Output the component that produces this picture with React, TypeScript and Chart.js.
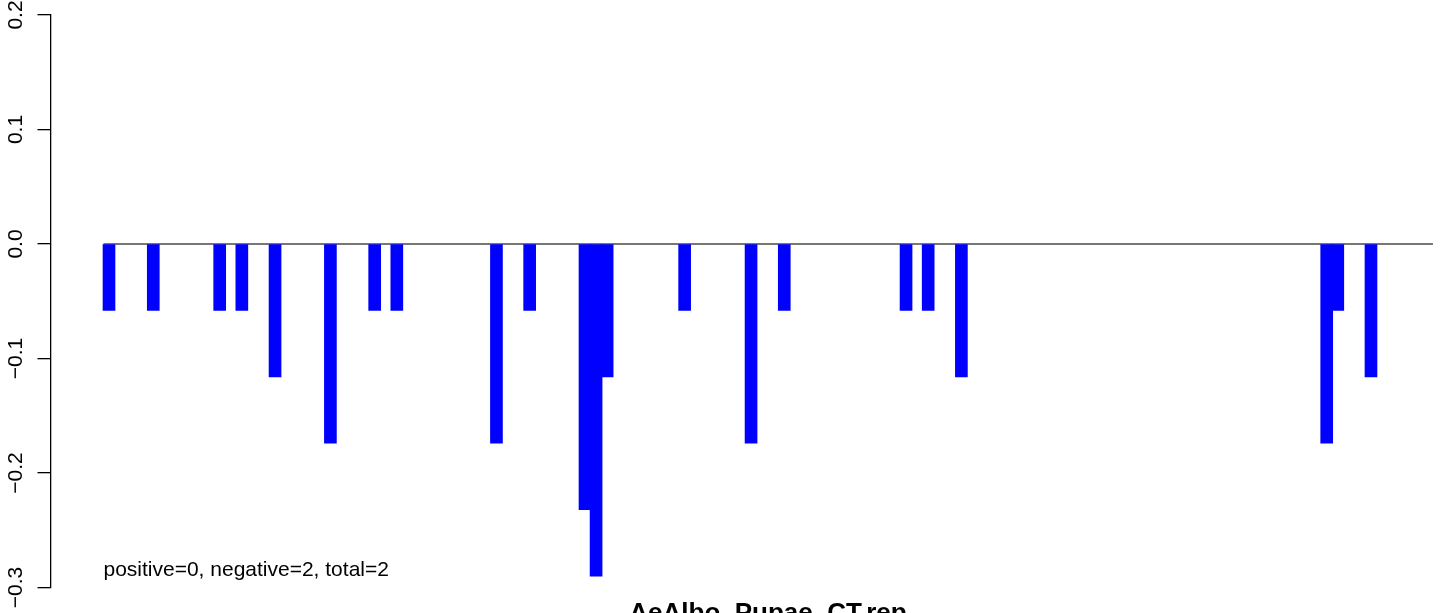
import React, { useEffect, useRef } from "react";
import { Chart, registerables } from "chart.js";

Chart.register(...registerables);

// Bar slot positions (index along the x axis) and their values
const slots = [0, 4, 10, 12, 15, 20, 24, 26, 35, 38, 43, 44, 45, 52, 58, 61, 72, 74, 77, 110, 111, 114];
const values = [
  -0.058, -0.058, -0.058, -0.058, -0.116, -0.174, -0.058, -0.058, -0.174, -0.058, -0.232,
  -0.29, -0.116, -0.058, -0.174, -0.058, -0.058, -0.058, -0.116, -0.174, -0.058, -0.116,
];
const yTickValues = [-0.3, -0.2, -0.1, 0, 0.1, 0.2];
const zeroLineX = [-0.5, 119.6];
const titleText = "AeAlbo_Pupae_CT.rep";
const noteText = "positive=0, negative=2, total=2";

const FONT = "'Liberation Sans', Arial, Helvetica, sans-serif";

export default function App() {
  const ref = useRef<HTMLCanvasElement | null>(null);

  useEffect(() => {
    if (!ref.current) return;

    const overlay = {
      id: "overlay",
      afterDraw(chart: any) {
        const ctx = chart.ctx;
        const ys = chart.scales.y;
        const xs = chart.scales.x;
        const area = chart.chartArea;
        ctx.save();
        ctx.fillStyle = "#000";
        // rotated y tick labels
        ctx.font = `21px ${FONT}`;
        ys.ticks.forEach((t: any, i: number) => {
          const py = ys.getPixelForTick(i);
          ctx.save();
          ctx.translate(area.left - 28.8, py);
          ctx.rotate(-Math.PI / 2);
          ctx.textAlign = "center";
          ctx.textBaseline = "alphabetic";
          ctx.fillText(String(t.label), 0, 0);
          ctx.restore();
        });
        // note text
        ctx.textAlign = "left";
        ctx.textBaseline = "alphabetic";
        ctx.font = `21px ${FONT}`;
        ctx.fillText(noteText, xs.getPixelForValue(zeroLineX[0]), area.bottom - 12);
        // title at bottom
        ctx.textAlign = "center";
        ctx.font = `bold 26px ${FONT}`;
        ctx.fillText(titleText, 768, 620.5);
        ctx.restore();
      },
    };

    const chart = new Chart(ref.current, {
      type: "bar",
      data: {
        datasets: [
          {
            type: "bar",
            data: slots.map((s, i) => ({ x: s, y: values[i] })),
            backgroundColor: "#0000FF",
            borderWidth: 0,
            barThickness: 12,
            order: 1,
          } as any,
          {
            type: "line",
            data: zeroLineX.map((x) => ({ x, y: 0 })),
            borderColor: "#4a4a4a",
            borderWidth: 1.3,
            pointRadius: 0,
            order: 2,
          } as any,
        ],
      },
      options: {
        animation: false,
        responsive: true,
        maintainAspectRatio: false,
        layout: { padding: { left: 37.5, top: 15, bottom: 25.5, right: 0 } },
        plugins: {
          legend: { display: false },
          tooltip: { enabled: false },
          title: { display: false },
        },
        scales: {
          x: {
            type: "linear",
            display: false,
            min: -5.2845,
            max: 121.318,
            offset: false,
          },
          y: {
            type: "linear",
            min: -0.3,
            max: 0.2,
            afterBuildTicks: (scale: any) => {
              scale.ticks = yTickValues.map((v) => ({ value: v }));
            },
            ticks: {
              display: false,
              callback: (v: any) => Number(v).toFixed(1).replace("-", "\u2212"),
            },
            grid: {
              display: true,
              drawOnChartArea: false,
              drawTicks: true,
              tickLength: 13,
              color: "#000",
              lineWidth: 1.3,
            },
            border: { display: true, color: "#000", width: 1.3 },
          },
        },
      },
      plugins: [overlay],
    });

    return () => chart.destroy();
  }, []);

  return (
    <div style={{ position: "fixed", left: 0, top: 0, width: "1452px", height: "613px", background: "#fff" }}>
      <canvas ref={ref} />
    </div>
  );
}
